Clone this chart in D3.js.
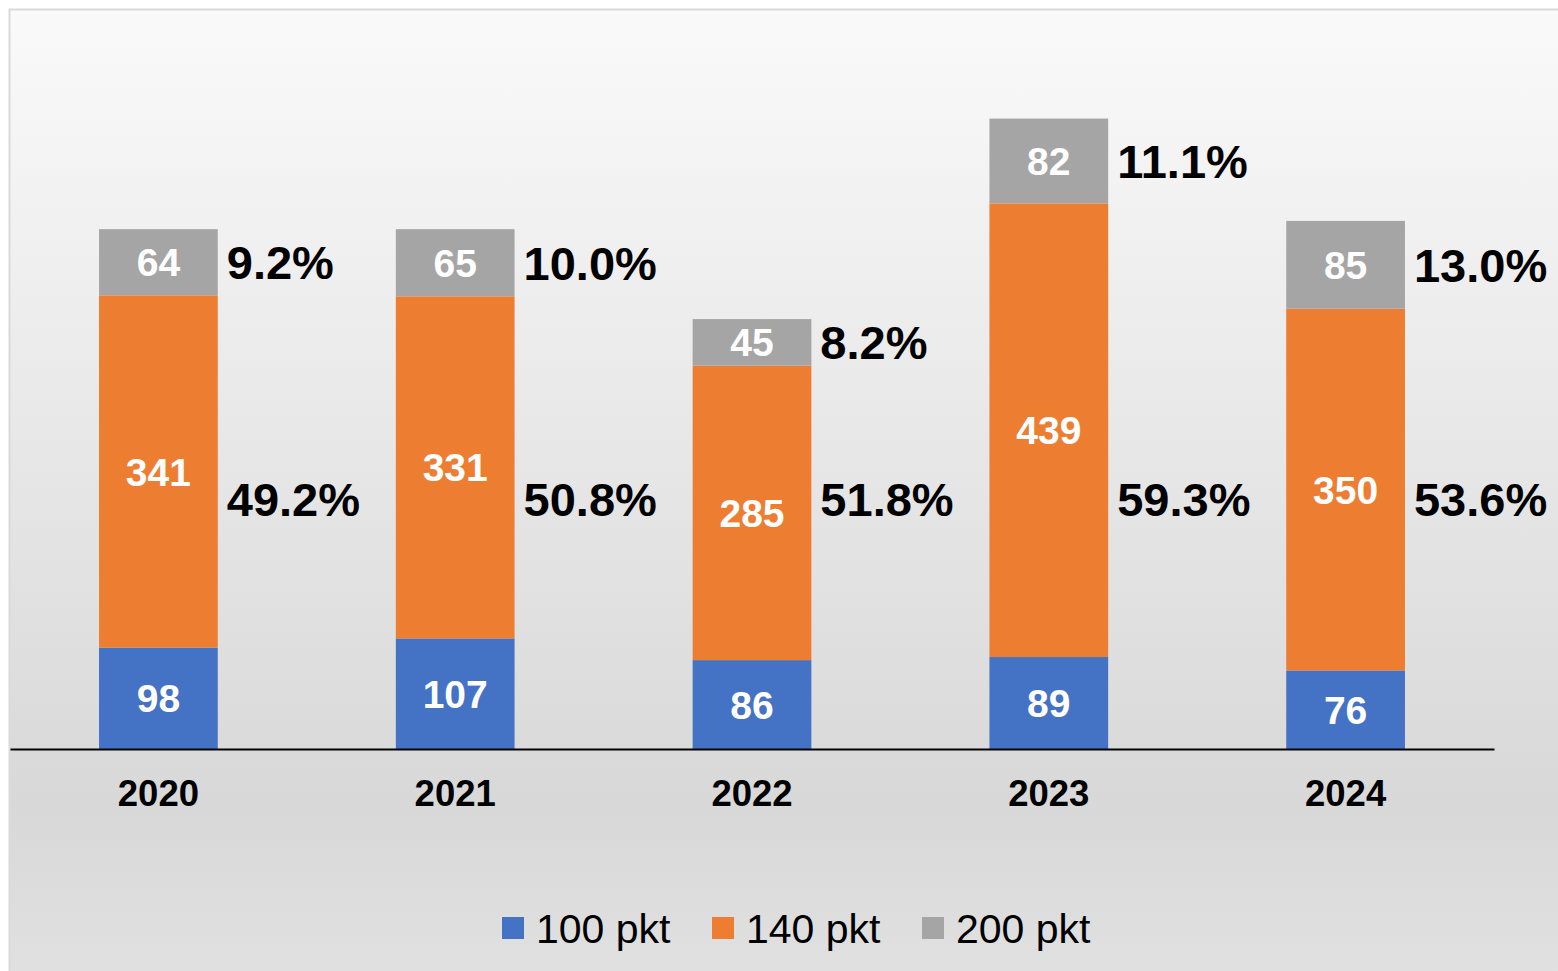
<!DOCTYPE html>
<html>
<head>
<meta charset="utf-8">
<script src="https://cdn.jsdelivr.net/npm/d3@7"></script>
<style>
  body { margin: 0; background: #fff; }
  svg { display: block; font-family: "Liberation Sans", Arial, sans-serif; }
</style>
</head>
<body>
<div id="chart"></div>
<script>
// data
var years = ["2020", "2021", "2022", "2023", "2024"];
var seriesNames = ["100 pkt", "140 pkt", "200 pkt"];
var pkt100 = [98, 107, 86, 89, 76];
var pkt140 = [341, 331, 285, 439, 350];
var pkt200 = [64, 65, 45, 82, 85];
var pct140 = ["49.2%", "50.8%", "51.8%", "59.3%", "53.6%"];
var pct200 = ["9.2%", "10.0%", "8.2%", "11.1%", "13.0%"];
var colors = ["#4472c4", "#ed7d31", "#a5a5a5"];

var width = 1558, height = 971;

var svg = d3.select("#chart").append("svg")
    .attr("width", width)
    .attr("height", height);

var grad = svg.append("defs").append("linearGradient")
    .attr("id", "bg")
    .attr("x1", 0).attr("y1", 0).attr("x2", 0).attr("y2", 1);
grad.append("stop").attr("offset", "0%").attr("stop-color", "#fafafa");
grad.append("stop").attr("offset", "82%").attr("stop-color", "#d8d8d8");
grad.append("stop").attr("offset", "100%").attr("stop-color", "#e1e1e1");

svg.append("rect")
    .attr("x", 9.5).attr("y", 9.5)
    .attr("width", width).attr("height", height)
    .attr("fill", "url(#bg)")
    .attr("stroke", "#d9d9d9")
    .attr("stroke-width", 2);

var x = d3.scaleBand()
    .domain(years)
    .range([10, 1494])
    .paddingInner(0.6)
    .paddingOuter(0.3);

var y = d3.scaleLinear()
    .domain([0, 610])
    .range([749, 118.6]);

var table = years.map(function(yr, i) {
    return { year: yr, "100 pkt": pkt100[i], "140 pkt": pkt140[i], "200 pkt": pkt200[i] };
});

var stack = d3.stack().keys(seriesNames)(table);

var layers = svg.selectAll("g.layer")
    .data(stack)
    .enter().append("g")
    .attr("class", "layer")
    .attr("fill", function(d, i) { return colors[i]; });

layers.selectAll("rect")
    .data(function(d) { return d; })
    .enter().append("rect")
    .attr("x", function(d) { return x(d.data.year); })
    .attr("y", function(d) { return y(d[1]); })
    .attr("width", x.bandwidth())
    .attr("height", function(d) { return y(d[0]) - y(d[1]); });

// value labels inside segments
layers.selectAll("text")
    .data(function(d) { return d; })
    .enter().append("text")
    .attr("x", function(d) { return x(d.data.year) + x.bandwidth() / 2; })
    .attr("y", function(d) { return (y(d[0]) + y(d[1])) / 2; })
    .attr("dy", "0.36em")
    .attr("text-anchor", "middle")
    .attr("fill", "#fff")
    .attr("font-weight", "bold")
    .attr("font-size", 39)
    .text(function(d) { return d[1] - d[0]; });

// percentage labels right of bars
var grayLayer = stack[2];
svg.selectAll("text.pct200")
    .data(grayLayer)
    .enter().append("text")
    .attr("class", "pct200")
    .attr("x", function(d) { return x(d.data.year) + x.bandwidth() + 9; })
    .attr("y", function(d) { return (y(d[0]) + y(d[1])) / 2; })
    .attr("dy", "0.36em")
    .attr("font-weight", "bold")
    .attr("font-size", 47)
    .attr("fill", "#000")
    .text(function(d, i) { return pct200[i]; });

svg.selectAll("text.pct140")
    .data(years)
    .enter().append("text")
    .attr("class", "pct140")
    .attr("x", function(d) { return x(d) + x.bandwidth() + 9; })
    .attr("y", y(242))
    .attr("dy", "0.36em")
    .attr("font-weight", "bold")
    .attr("font-size", 47)
    .attr("fill", "#000")
    .text(function(d, i) { return pct140[i]; });

// x axis
var axis = svg.append("g")
    .attr("transform", "translate(0," + y(0) + ")")
    .call(d3.axisBottom(x).tickSize(0).tickSizeOuter(0));

axis.select(".domain")
    .attr("stroke", "#000")
    .attr("stroke-width", 2);

axis.selectAll(".tick text")
    .attr("y", 44)
    .attr("dy", "0.36em")
    .attr("fill", "#000")
    .attr("font-family", "Liberation Sans, Arial, sans-serif")
    .attr("font-weight", "bold")
    .attr("font-size", 36.5);

// legend
var legend = svg.selectAll("g.legend")
    .data(seriesNames)
    .enter().append("g")
    .attr("class", "legend")
    .attr("transform", function(d, i) { return "translate(" + (502 + i * 210) + ",917)"; });

legend.append("rect")
    .attr("width", 22)
    .attr("height", 22)
    .attr("fill", function(d, i) { return colors[i]; });

legend.append("text")
    .attr("x", 34)
    .attr("y", 11)
    .attr("dy", "0.36em")
    .attr("font-size", 41)
    .attr("fill", "#000")
    .text(function(d) { return d; });
</script>
</body>
</html>
